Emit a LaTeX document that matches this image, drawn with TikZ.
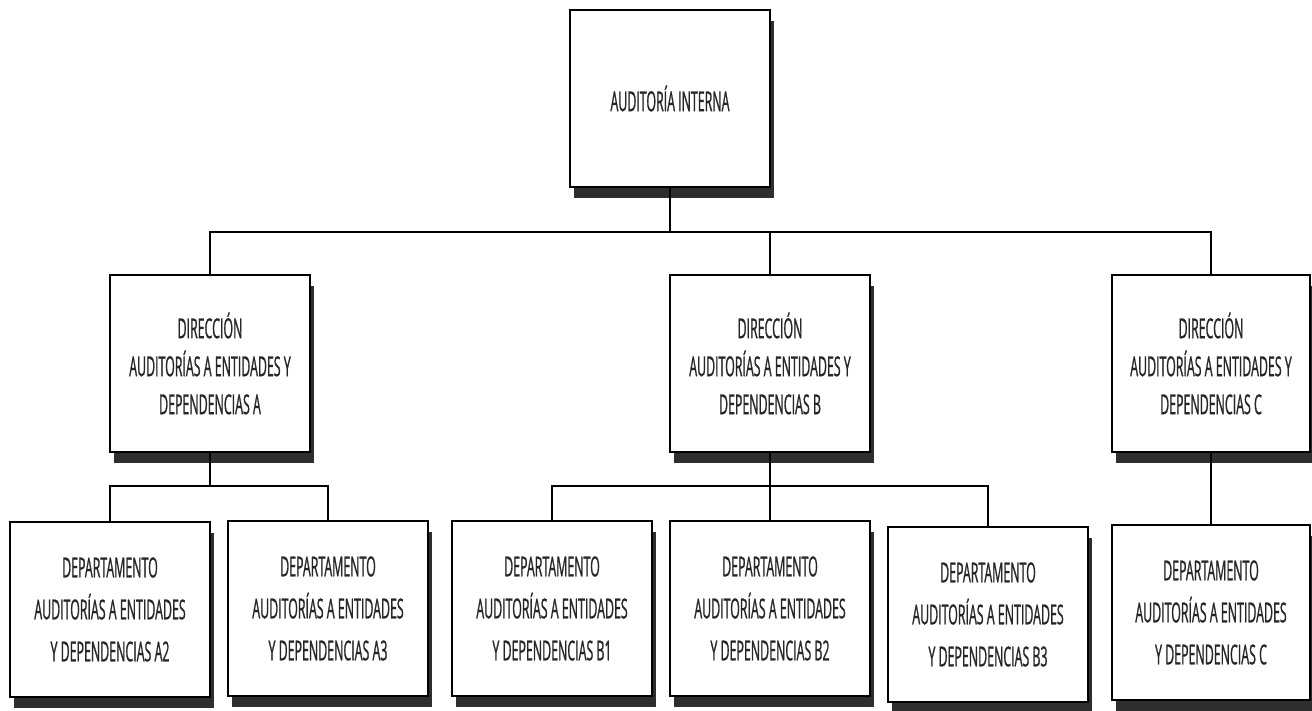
\documentclass[tikz,border=0pt]{standalone}
\usepackage{fontspec}
\newfontfamily\cond[FakeStretch=0.45,FakeBold=0.8]{Open Sans}
\usetikzlibrary{shadows}
\begin{document}
\begin{tikzpicture}[x=1pt,y=-1pt,
  box/.style={draw=black,line width=2.5pt,fill=white,rectangle,align=center,
    minimum width=200pt,minimum height=177pt,inner sep=0pt,
    font=\cond\fontsize{27.5}{38}\selectfont,text=black!85,
    drop shadow={shadow xshift=4pt,shadow yshift=-11pt,opacity=1,fill=black!82}},
  dept/.style={box,minimum height=175pt,font=\cond\fontsize{27.5}{42}\selectfont},
  conn/.style={line width=2pt,draw=black}]
\useasboundingbox (0,0) rectangle (1312,711);
\node[box] (top) at (670,98.5) {AUDITORÍA INTERNA};
\node[box] (dA) at (210,363.5) {DIRECCIÓN\\AUDITORÍAS A ENTIDADES Y\\DEPENDENCIAS A};
\node[box] (dB) at (770,363.5) {DIRECCIÓN\\AUDITORÍAS A ENTIDADES Y\\DEPENDENCIAS B};
\node[box,minimum width=198pt] (dC) at (1211,363.5) {DIRECCIÓN\\AUDITORÍAS A ENTIDADES Y\\DEPENDENCIAS C};
\node[dept] (a2) at (110,609.5) {DEPARTAMENTO\\AUDITORÍAS A ENTIDADES\\Y DEPENDENCIAS A2};
\node[dept] (a3) at (328,608.5) {DEPARTAMENTO\\AUDITORÍAS A ENTIDADES\\Y DEPENDENCIAS A3};
\node[dept] (b1) at (552,608.5) {DEPARTAMENTO\\AUDITORÍAS A ENTIDADES\\Y DEPENDENCIAS B1};
\node[dept] (b2) at (770,608.5) {DEPARTAMENTO\\AUDITORÍAS A ENTIDADES\\Y DEPENDENCIAS B2};
\node[dept] (b3) at (988,614.5) {DEPARTAMENTO\\AUDITORÍAS A ENTIDADES\\Y DEPENDENCIAS B3};
\node[dept,minimum width=198pt] (c) at (1211,612.5) {DEPARTAMENTO\\AUDITORÍAS A ENTIDADES\\Y DEPENDENCIAS C};
\coordinate (bus) at (670,232);
\coordinate (busA) at (210,486);
\coordinate (busB) at (770,486);
\draw[conn] (top.south) -- (bus);
\draw[conn] (dA.north) |- (bus) -| (dC.north);
\draw[conn] (dB.north) -- (dB.north |- bus);
\draw[conn] (dA.south) -- (busA);
\draw[conn] (a2.north) |- (busA) -| (a3.north);
\draw[conn] (dB.south) -- (b2.north);
\draw[conn] (b1.north) |- (busB) -| (b3.north);
\draw[conn] (dC.south) -- (c.north);
\end{tikzpicture}
\end{document}
